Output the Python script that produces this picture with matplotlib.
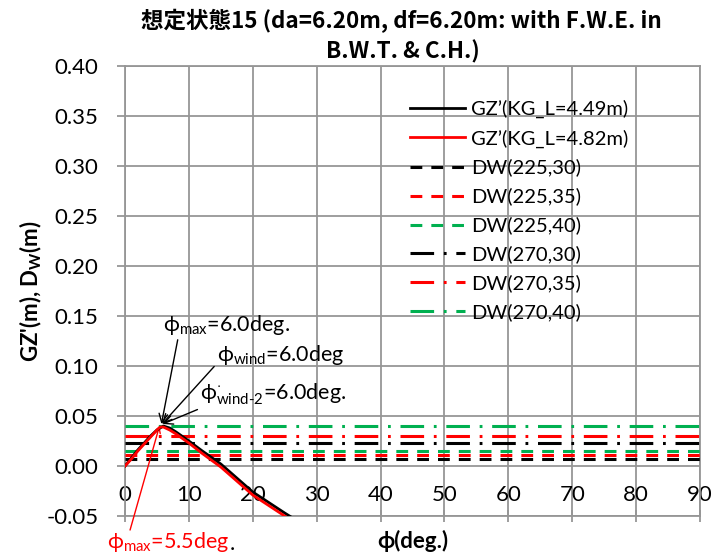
import matplotlib
matplotlib.use("Agg")
import matplotlib.pyplot as plt

plt.rcParams['font.family'] = ['Lato', 'DejaVu Sans']
plt.rcParams['mathtext.fontset'] = 'custom'
plt.rcParams['mathtext.rm'] = 'Lato'
plt.rcParams['mathtext.it'] = 'Lato'
plt.rcParams['mathtext.bf'] = 'Lato:bold'
plt.rcParams['lines.scale_dashes'] = False

# Righting arm curves GZ' (m) against heel angle phi (deg.)
phi_449 = [0, 1, 2, 3, 4, 5, 6, 7, 8, 10, 12, 15, 20, 25, 30]
gz_449 = [0.000, 0.008, 0.016, 0.023, 0.030, 0.036, 0.040, 0.038, 0.034,
          0.025, 0.0155, 0.002, -0.026, -0.047, -0.067]
phi_482 = [0, 1, 2, 3, 4, 5, 5.5, 6, 7, 8, 10, 12, 15, 20, 25, 30]
gz_482 = [0.000, 0.007, 0.015, 0.022, 0.029, 0.036, 0.039, 0.039, 0.036,
          0.032, 0.023, 0.013, -0.001, -0.029, -0.050, -0.070]

# Wind heeling levers D_W (m)
dw_labels = ['DW(225,30)', 'DW(225,35)', 'DW(225,40)',
             'DW(270,30)', 'DW(270,35)', 'DW(270,40)']
dw_values = [0.0075, 0.011, 0.015, 0.0227, 0.0303, 0.0403]
dw_colors = ['black', '#FF0000', '#00B050', 'black', '#FF0000', '#00B050']
dw_styles = ['dashed'] * 3 + ['dashdot'] * 3
phi_range = [0, 90]

fig = plt.figure(figsize=(7.2, 5.56), dpi=100)
ax = fig.add_axes([0.1736, 0.0719, 0.7986, 0.8094])

ax.plot(phi_449, gz_449, color='black', lw=2.0, label='GZ’(KG_L=4.49m)', zorder=4)
ax.plot(phi_482, gz_482, color='#FF0000', lw=2.0, label='GZ’(KG_L=4.82m)', zorder=5)

dash_map = {'dashed': (0, (8.5, 6.5)), 'dashdot': (0, (17, 7, 2, 7))}
for lab, val, col, sty in zip(dw_labels, dw_values, dw_colors, dw_styles):
    ax.plot(phi_range, [val, val], color=col, lw=2.2, linestyle=dash_map[sty],
            label=lab, zorder=3)

ax.set_xlim(0, 90)
ax.set_ylim(-0.05, 0.40)
ax.set_xticks(range(0, 91, 10))
ax.set_yticks([-0.05 + 0.05 * i for i in range(10)])
ax.set_yticklabels([f'{-0.05 + 0.05 * i:.2f}' for i in range(10)])
ax.grid(True, color='#969696', lw=1.3, zorder=0)
for s in ax.spines.values():
    s.set_color('#969696')
    s.set_linewidth(1.3)
ax.tick_params(axis='y', direction='out', length=6, color='#969696', width=1.3,
               labelsize=16, pad=13)
ax.tick_params(axis='x', direction='inout', length=8, color='#969696', width=1.3,
               labelsize=16, pad=-26)

ax.set_ylabel('GZ\'(m), D$_{\\mathbf{W}}$(m)', fontsize=16, fontweight='bold', labelpad=2)
ax.set_xlabel('ϕ(deg.)', fontsize=16, fontweight='bold', labelpad=6)

fig.text(0.557, 0.962, '想定状態15 (da=6.20m, df=6.20m: with F.W.E. in',
         family=['Noto Sans CJK JP', 'DejaVu Sans'], fontweight='bold',
         fontsize=16.2, ha='center', va='center')
fig.text(0.560, 0.907, 'B.W.T. & C.H.)',
         family=['Noto Sans CJK JP', 'DejaVu Sans'], fontweight='bold',
         fontsize=16.2, ha='center', va='center')

leg = ax.legend(loc='upper right', bbox_to_anchor=(0.907, 0.965), frameon=False,
                fontsize=14.5, handlelength=2.75, handletextpad=0.3,
                labelspacing=0.55)

# Angle annotations at the GZ' maximum
arrow_k = dict(arrowstyle='->', color='black', lw=1.0, shrinkA=0, shrinkB=0)
ax.annotate('ϕ$_{\\mathrm{max}}$=6.0deg.', xy=(5.7, 0.042), xytext=(5.95, 0.141),
            fontsize=15.5, va='center', ha='left',
            arrowprops=dict(arrow_k, relpos=(0.12, 0.0)))
ax.annotate('ϕ$_{\\mathrm{wind}}$=6.0deg', xy=(5.8, 0.042), xytext=(14.4, 0.111),
            fontsize=15.5, va='center', ha='left',
            arrowprops=dict(arrow_k, relpos=(0.0, 0.15)))
ax.annotate('ϕ$^{\\cdot}_{\\mathrm{wind\\text{-}2}}$=6.0deg.', xy=(5.9, 0.042),
            xytext=(11.7, 0.072), fontsize=15.5, va='center', ha='left',
            arrowprops=dict(arrow_k, relpos=(0.03, 0.0)))

# Lighter-condition maximum, labelled below the axes
red_txt = ax.text(-2.85, -0.076, 'ϕ$_{\\mathrm{max}}$=5.5deg', fontsize=15.5,
                  va='center', ha='left', color='#FF0000', clip_on=False)
ax.annotate('.', xy=(1.0, 0.0), xycoords=red_txt, fontsize=15.5,
            va='bottom', ha='left', color='black', annotation_clip=False)
ax.annotate('', xy=(5.4, 0.040), xytext=(0.19, 1.0), textcoords=red_txt,
            annotation_clip=False,
            arrowprops=dict(arrowstyle='->', color='#FF0000', lw=1.0,
                            shrinkA=0, shrinkB=0))

fig.savefig('out.png', dpi=100)
